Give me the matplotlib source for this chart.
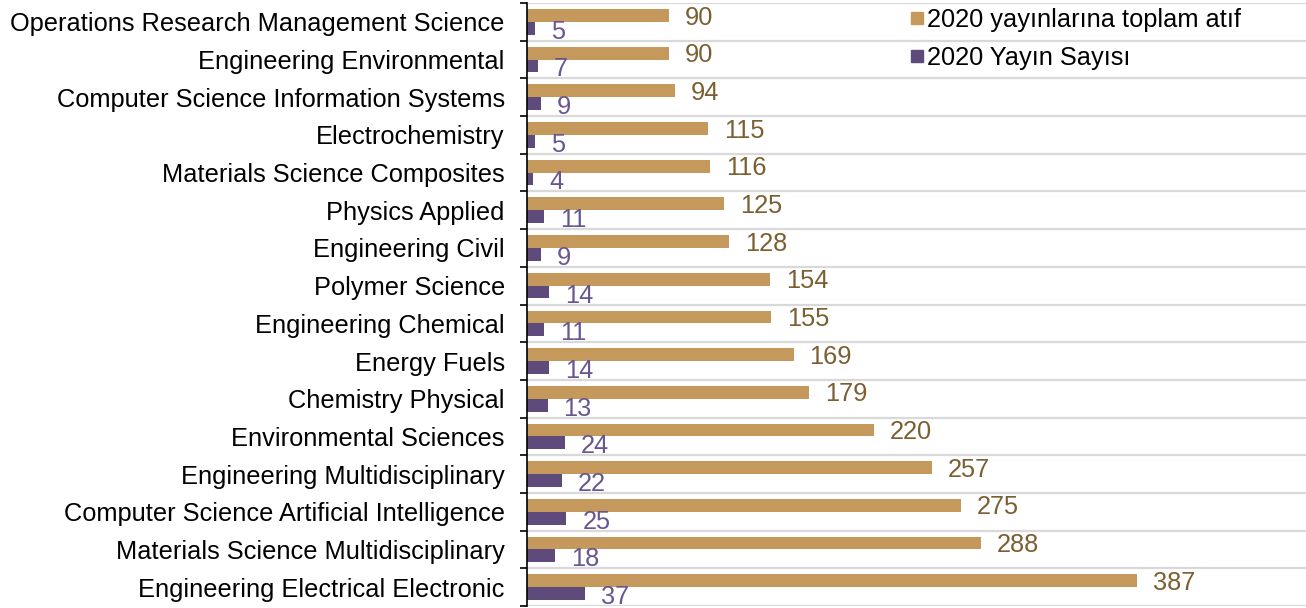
import numpy as np
import matplotlib.pyplot as plt
from matplotlib.lines import Line2D

plt.rcParams['font.family'] = ['Liberation Sans', 'DejaVu Sans']

## DATA ##
categories = [
    "Operations Research Management Science",
    "Engineering Environmental",
    "Computer Science Information Systems",
    "Electrochemistry",
    "Materials Science Composites",
    "Physics Applied",
    "Engineering Civil",
    "Polymer Science",
    "Engineering Chemical",
    "Energy Fuels",
    "Chemistry Physical",
    "Environmental Sciences",
    "Engineering Multidisciplinary",
    "Computer Science Artificial Intelligence",
    "Materials Science Multidisciplinary",
    "Engineering Electrical Electronic",
]
citations = [90, 90, 94, 115, 116, 125, 128, 154, 155, 169, 179, 220, 257, 275, 288, 387]
pub_counts = [5, 7, 9, 5, 4, 11, 9, 14, 11, 14, 13, 24, 22, 25, 18, 37]
series_names = ["2020 yayınlarına toplam atıf", "2020 Yayın Sayısı"]

## STYLE ##
gold = '#C4995B'
purple = '#5F4A7C'
gold_txt = '#7B5F31'
purple_txt = '#67568F'
grid_col = '#D9D9D9'
fs = 18.3

fig = plt.figure(figsize=(13.06, 6.08), dpi=100)
ax = fig.add_axes([527 / 1306, 2 / 608, 1 - 527 / 1306, 603 / 608])

y = np.arange(len(categories))
h = 0.34
ax.barh(y - h / 2, citations, height=h, color=gold)
ax.barh(y + h / 2, pub_counts, height=h, color=purple)

# value labels, offset in points from the bar end
for yi, c, p in zip(y, citations, pub_counts):
    ax.annotate(str(c), (c, yi - h / 2), xytext=(11.5, -1.5), textcoords='offset points',
                va='center', ha='left', fontsize=fs, color=gold_txt)
    ax.annotate(str(p), (p, yi + h / 2), xytext=(11.5, -2.5), textcoords='offset points',
                va='center', ha='left', fontsize=fs, color=purple_txt)

ax.set_xlim(0, 494)
ax.set_ylim(len(categories) - 0.5, -0.5)

# category labels at centers, ticks/grid at boundaries
ax.set_yticks(y, labels=categories, fontsize=fs)
ax.tick_params(axis='y', which='major', length=0, pad=16)
ax.set_yticks(np.arange(len(categories) + 1) - 0.5, minor=True)
ax.tick_params(axis='y', which='minor', length=5, width=1.2, direction='out', color='black')
ax.yaxis.grid(True, which='minor', color=grid_col, linewidth=1.6)
ax.set_axisbelow(True)
ax.set_xticks([])

for name, spine in ax.spines.items():
    if name == 'left':
        spine.set_color('black')
        spine.set_linewidth(1.2)
    else:
        spine.set_visible(False)

handles = [Line2D([], [], marker='s', linestyle='none', color=gold, markersize=8),
           Line2D([], [], marker='s', linestyle='none', color=purple, markersize=8)]
ax.legend(handles, series_names, loc='upper left', bbox_to_anchor=(895 / 1306, 1.012),
          bbox_transform=fig.transFigure, frameon=False, fontsize=fs,
          handlelength=0.5, handletextpad=0.15, labelspacing=0.54, borderpad=0.1)

fig.savefig('out.png', dpi=100)
